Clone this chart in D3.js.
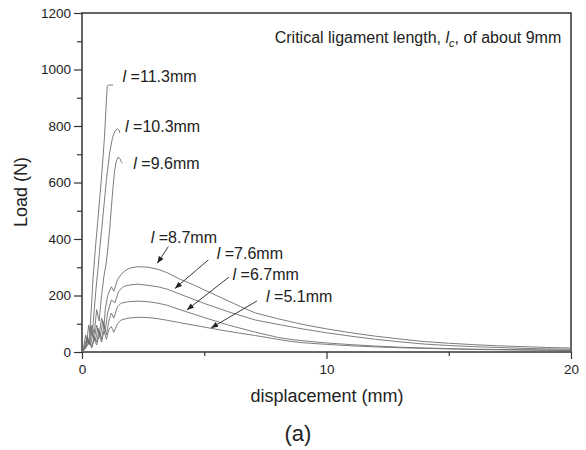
<!DOCTYPE html>
<html>
<head>
<meta charset="utf-8">
<script src="https://cdn.jsdelivr.net/npm/d3@7"></script>
<style>
  html, body { margin: 0; padding: 0; background: #fff; }
  #chart { width: 586px; height: 450px; }
  text { font-family: "Liberation Sans", Arial, sans-serif; fill: #222; }
</style>
</head>
<body>
<div id="chart"></div>
<script>
// load-displacement curves, [displacement (mm), load (N)]
const l113 = [[0,0],[0.08,25],[0.15,60],[0.2,35],[0.27,95],[0.32,70],[0.4,180],[0.45,260],[0.52,337],[0.58,400],[0.65,467],[0.72,540],[0.79,609],[0.86,690],[0.92,762],[0.98,860],[1.03,940],[1.08,945],[1.27,945]]
const l103 = [[0,0],[0.1,15],[0.2,50],[0.27,30],[0.35,90],[0.42,60],[0.5,150],[0.58,230],[0.65,290],[0.72,360],[0.8,430],[0.9,520],[1.0,610],[1.13,705],[1.25,760],[1.35,783],[1.45,790],[1.52,785],[1.55,775]]
const l96 = [[0,0],[0.12,20],[0.22,55],[0.3,30],[0.4,95],[0.5,65],[0.6,150],[0.7,110],[0.8,200],[0.9,270],[0.99,314],[1.06,370],[1.13,432],[1.2,510],[1.27,585],[1.33,640],[1.4,675],[1.47,689],[1.55,685],[1.6,675],[1.65,668]]
const l87 = [[0,0],[0.1,15],[0.2,40],[0.3,25],[0.4,70],[0.5,45],[0.6,95],[0.7,60],[0.8,120],[0.9,90],[0.95,150],[1.05,200],[1.2,231],[1.3,215],[1.45,255],[1.6,275],[1.8,290],[2.0,298],[2.3,302],[2.7,300],[3.1,293],[3.5,280],[4,258],[4.5,240],[5,220],[5.5,200],[6,180],[6.5,160],[7.1,138],[8,118],[8.5,108],[9,98],[10,82],[11,68],[12,56],[13,46],[14,37],[15,31],[16,26],[17,22],[18,19],[19,16],[20,14]]
const l76 = [[0,0],[0.15,20],[0.25,45],[0.35,25],[0.45,65],[0.55,40],[0.65,85],[0.75,55],[0.85,110],[0.95,75],[1.05,140],[1.2,184],[1.35,175],[1.5,215],[1.7,232],[2.0,238],[2.3,240],[2.7,236],[3.1,231],[3.5,222],[4,205],[5,172],[6,142],[7.1,113],[8,98],[8.5,90],[9,82],[10,68],[11,56],[12,45],[13,36],[14,28],[15,23],[16,19],[17,16],[18,13],[19,11],[20,10]]
const l67 = [[0,0],[0.15,15],[0.3,40],[0.4,20],[0.5,55],[0.6,35],[0.7,75],[0.8,45],[0.9,95],[1.0,60],[1.1,110],[1.2,138],[1.3,120],[1.45,160],[1.6,173],[1.9,178],[2.3,180],[2.7,178],[3.1,173],[3.5,165],[4,150],[5,122],[6,95],[7.1,70],[8,52],[8.5,45],[9,40],[10,32],[11,26],[12,21],[13,17],[14,14],[15,12],[16,10],[17,9],[18,8],[19,7],[20,6]]
const l51 = [[0,0],[0.15,15],[0.3,35],[0.4,15],[0.5,45],[0.6,25],[0.7,60],[0.8,35],[0.9,75],[1.0,45],[1.1,80],[1.2,90],[1.3,70],[1.45,100],[1.6,113],[1.9,120],[2.3,123],[2.7,122],[3.1,118],[3.5,112],[4,104],[4.5,96],[5.2,85],[6,73],[7.1,58],[8,45],[8.5,38],[9,33],[10,27],[11,22],[12,18],[13,15],[14,13],[15,11],[16,9],[17,8],[18,7],[19,6],[20,5]]

const curves = [l113, l103, l96, l87, l76, l67, l51]
const seriesNames = ['11.3mm', '10.3mm', '9.6mm', '8.7mm', '7.6mm', '6.7mm', '5.1mm']
// label anchor in data units
const labelPos = [[1.66, 956], [1.76, 779], [2.10, 648], [2.81, 386], [5.51, 329], [6.16, 255], [7.53, 177]]
// arrows for the low curves: [from, to] in data units
const arrows = [
  [[3.53, 373], [3.08, 314]],
  [[5.17, 326], [3.80, 225]],
  [[6.01, 265], [4.29, 149]],
  [[7.16, 181], [5.28, 85]],
]

const xTicks = [0, 10, 20]
const xMinor = [5, 15]
const yTicks = [0, 200, 400, 600, 800, 1000, 1200]
const yMinor = [100, 300, 500, 700, 900, 1100]

function drawChart(element) {
  const width = 586, height = 450
  const margin = { top: 13, right: 15, bottom: 98, left: 82 }

  const svg = d3.select(element).append('svg')
    .attr('width', width)
    .attr('height', height)

  svg.append('defs').append('marker')
    .attr('id', 'head')
    .attr('viewBox', '0 0 10 10')
    .attr('refX', 10).attr('refY', 5)
    .attr('markerWidth', 7).attr('markerHeight', 7)
    .attr('markerUnits', 'userSpaceOnUse')
    .attr('orient', 'auto')
    .append('path').attr('d', 'M0,1 L10,5 L0,9 Z').attr('fill', '#222')

  const x = d3.scaleLinear().domain([0, 20]).range([margin.left, width - margin.right])
  const y = d3.scaleLinear().domain([0, 1200]).range([height - margin.bottom, margin.top])

  const axisColor = '#333'
  const fontFamily = '"Liberation Sans", Arial, sans-serif'

  // minor ticks first
  svg.append('g')
    .attr('transform', `translate(0,${y(0)})`)
    .call(d3.axisBottom(x).tickValues(xMinor).tickSize(4).tickFormat(''))
    .call(g => g.select('.domain').remove())
  svg.append('g')
    .attr('transform', `translate(${x(0)},0)`)
    .call(d3.axisLeft(y).tickValues(yMinor).tickSize(5).tickFormat(''))
    .call(g => g.select('.domain').remove())

  const xAxis = svg.append('g')
    .attr('transform', `translate(0,${y(0)})`)
    .call(d3.axisBottom(x).tickValues(xTicks).tickSize(7).tickPadding(5).tickFormat(d3.format('d')))
  const yAxis = svg.append('g')
    .attr('transform', `translate(${x(0)},0)`)
    .call(d3.axisLeft(y).tickValues(yTicks).tickSize(8).tickPadding(3).tickFormat(d3.format('d')))

  svg.selectAll('.tick line').attr('stroke', axisColor).attr('stroke-width', 1.2)
  svg.selectAll('.domain').remove()
  xAxis.selectAll('text').attr('font-size', 13.5).attr('font-family', fontFamily).attr('fill', '#222')
  yAxis.selectAll('text').attr('font-size', 13.5).attr('font-family', fontFamily).attr('fill', '#222')

  // frame
  svg.append('rect')
    .attr('x', x(0)).attr('y', y(1200))
    .attr('width', x(20) - x(0)).attr('height', y(0) - y(1200))
    .attr('fill', 'none').attr('stroke', axisColor).attr('stroke-width', 1.5)

  const line = d3.line().x(d => x(d[0])).y(d => y(d[1]))

  svg.append('g')
    .attr('fill', 'none')
    .attr('stroke', '#6e6e6e')
    .attr('stroke-width', 0.9)
    .selectAll('path')
    .data(curves)
    .join('path')
    .attr('d', line)

  const labels = svg.append('g').attr('font-size', 16)
  labels.selectAll('text')
    .data(seriesNames)
    .join('text')
    .attr('x', (d, i) => x(labelPos[i][0]))
    .attr('y', (d, i) => y(labelPos[i][1]))
    .each(function (d) {
      const t = d3.select(this)
      t.append('tspan').attr('font-style', 'italic').text('l')
      t.append('tspan').text(' =' + d)
    })

  svg.append('g')
    .attr('stroke', '#222')
    .attr('stroke-width', 0.9)
    .selectAll('line')
    .data(arrows)
    .join('line')
    .attr('x1', d => x(d[0][0])).attr('y1', d => y(d[0][1]))
    .attr('x2', d => x(d[1][0])).attr('y2', d => y(d[1][1]))
    .attr('marker-end', 'url(#head)')

  const note = svg.append('text')
    .attr('x', x(19.6)).attr('y', 43)
    .attr('text-anchor', 'end')
    .attr('font-size', 16)
  note.append('tspan').text('Critical ligament length, ')
  note.append('tspan').attr('font-style', 'italic').text('l')
  note.append('tspan').attr('font-size', 11).attr('font-style', 'italic').attr('dy', 4).text('c')
  note.append('tspan').attr('dy', -4).text(', of about 9mm')

  svg.append('text')
    .attr('x', 327).attr('y', 402)
    .attr('text-anchor', 'middle')
    .attr('font-size', 18)
    .text('displacement (mm)')

  svg.append('text')
    .attr('transform', `translate(27,192) rotate(-90)`)
    .attr('text-anchor', 'middle')
    .attr('font-size', 18)
    .text('Load (N)')

  svg.append('text')
    .attr('x', 298).attr('y', 441)
    .attr('text-anchor', 'middle')
    .attr('font-size', 22)
    .text('(a)')
}

window.addEventListener('load', () => {
  drawChart(document.getElementById('chart'))
})
</script>
</body>
</html>
